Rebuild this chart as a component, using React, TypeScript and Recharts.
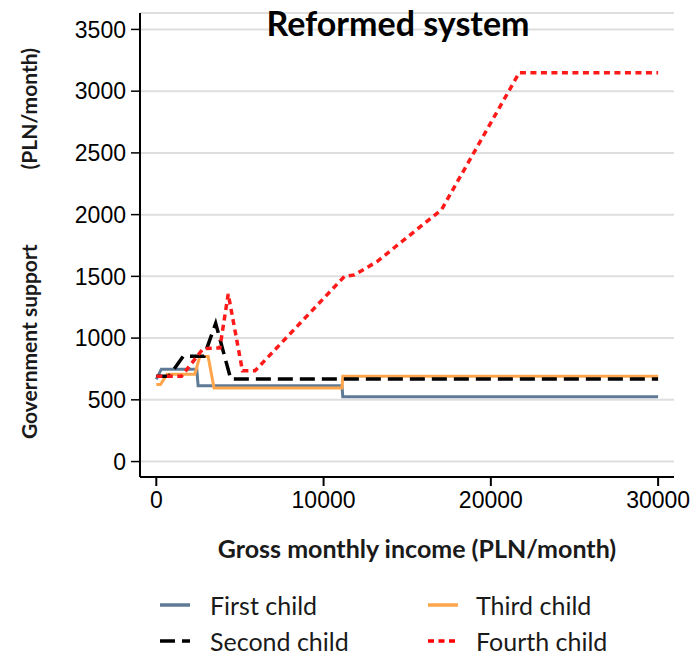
import { CartesianGrid, Legend, Line, LineChart, XAxis, YAxis } from 'recharts'

// values (income in PLN/month, support in PLN/month)
const firstChild = [
    { income: 0, support: 665 },
    { income: 300, support: 748 },
    { income: 2420, support: 748 },
    { income: 2500, support: 614 },
    { income: 11100, support: 614 },
    { income: 11150, support: 525 },
    { income: 30000, support: 525 },
]

const secondChild = [
    { income: 0, support: 690 },
    { income: 750, support: 690 },
    { income: 1600, support: 852 },
    { income: 2850, support: 852 },
    { income: 3550, support: 1120 },
    { income: 4450, support: 668 },
    { income: 30000, support: 668 },
]

const thirdChild = [
    { income: 0, support: 625 },
    { income: 250, support: 625 },
    { income: 650, support: 708 },
    { income: 2300, support: 708 },
    { income: 2600, support: 850 },
    { income: 3100, support: 850 },
    { income: 3450, support: 596 },
    { income: 11100, support: 596 },
    { income: 11150, support: 690 },
    { income: 30000, support: 690 },
]

const fourthChild = [
    { income: 0, support: 690 },
    { income: 1500, support: 690 },
    { income: 2800, support: 915 },
    { income: 3800, support: 920 },
    { income: 4300, support: 1358 },
    { income: 5150, support: 735 },
    { income: 5900, support: 735 },
    { income: 11250, support: 1500 },
    { income: 11850, support: 1512 },
    { income: 13200, support: 1620 },
    { income: 17050, support: 2040 },
    { income: 21700, support: 3150 },
    { income: 30000, support: 3150 },
]

const xTicks = [0, 10000, 20000, 30000]
const yTicks = [0, 500, 1000, 1500, 2000, 2500, 3000, 3500]

const legendItems = [
    { name: 'First child', color: '#5f7a96', dash: undefined as string | undefined },
    { name: 'Third child', color: '#ffa64d', dash: undefined as string | undefined },
    { name: 'Second child', color: '#000000', dash: '15 7' },
    { name: 'Fourth child', color: '#ff0000', dash: '6 4.5' },
]

const tickStyle = { fontFamily: '"Liberation Sans", Arial, sans-serif', fontSize: 23, fill: '#000' }
const labelFont = { fontFamily: 'Lato, sans-serif', fontWeight: 700, fill: '#1a1a1a' }

const renderLegend = () => (
    <div style={{ position: 'relative', width: 695, height: 76, fontFamily: 'Lato, sans-serif', fontSize: 25, color: '#1a1a1a' }}>
        {legendItems.map((item, i) => {
            const col = i % 2
            const row = Math.floor(i / 2)
            return (
                <div key={item.name} style={{ position: 'absolute', left: col === 0 ? 160 : 428, top: row * 36, height: 30, display: 'flex', alignItems: 'center' }}>
                    <svg width={30} height={10} style={{ marginRight: col === 0 ? 20 : 18 }}>
                        <line x1={0} y1={5} x2={30} y2={5} stroke={item.color} strokeWidth={3.5} strokeDasharray={item.dash} />
                    </svg>
                    <span>{item.name}</span>
                </div>
            )
        })}
    </div>
)

const YLabel = (props: any) => {
    const { viewBox } = props
    const cx = viewBox.x + 37
    return (
        <g style={{ ...labelFont, fontSize: 21 }}>
            <text transform={`translate(${cx} 439) rotate(-90)`} textAnchor="start">Government support</text>
            <text transform={`translate(${cx} 48) rotate(-90)`} textAnchor="end">(PLN/month)</text>
        </g>
    )
}

const XLabel = (props: any) => {
    const { viewBox } = props
    return (
        <text x={viewBox.x + viewBox.width / 2 + 10} y={558} textAnchor="middle" style={{ ...labelFont, fontSize: 25 }}>
            Gross monthly income (PLN/month)
        </text>
    )
}

const App = () => {
    return (
        <div style={{ position: 'absolute', left: 0, top: 0, width: 695, height: 656, background: '#fff' }}>
            <LineChart
                width={695}
                height={656}
                margin={{ top: 13, right: 21, bottom: 119, left: 0 }}
            >
                <CartesianGrid vertical={false} stroke="#dedede" strokeWidth={2} />
                <XAxis
                    dataKey="income"
                    type="number"
                    domain={[-975, 30950]}
                    ticks={xTicks}
                    allowDataOverflow
                    height={60}
                    tick={tickStyle}
                    tickSize={9}
                    tickMargin={6}
                    axisLine={{ stroke: '#000', strokeWidth: 2 }}
                    tickLine={{ stroke: '#000', strokeWidth: 2 }}
                    label={<XLabel />}
                />
                <YAxis
                    type="number"
                    domain={[-125, 3633]}
                    ticks={yTicks}
                    allowDataOverflow
                    width={140}
                    tick={tickStyle}
                    tickSize={9}
                    tickMargin={5}
                    axisLine={{ stroke: '#000', strokeWidth: 2 }}
                    tickLine={{ stroke: '#000', strokeWidth: 1.5 }}
                    label={<YLabel />}
                />
                <Legend
                    layout="horizontal"
                    verticalAlign="middle"
                    align="center"
                    content={renderLegend}
                    wrapperStyle={{ position: 'absolute', left: 0, top: 590, width: 695, height: 76 }}
                />
                <Line data={firstChild} dataKey="support" name="First child" type="linear" stroke="#5f7a96" strokeWidth={3} dot={false} isAnimationActive={false} />
                <Line data={thirdChild} dataKey="support" name="Third child" type="linear" stroke="#ffa64d" strokeWidth={3} dot={false} isAnimationActive={false} />
                <Line data={secondChild} dataKey="support" name="Second child" type="linear" stroke="#000" strokeWidth={3.5} strokeDasharray="15 7" dot={false} isAnimationActive={false} />
                <Line data={fourthChild} dataKey="support" name="Fourth child" type="linear" stroke="#ff1a1a" strokeWidth={3.5} strokeDasharray="6 4.5" dot={false} isAnimationActive={false} />
            </LineChart>
            <div style={{ position: 'absolute', left: 0, top: 0, width: 796, textAlign: 'center', fontFamily: 'Lato, sans-serif', fontWeight: 700, fontSize: 34, lineHeight: '46px', color: '#000' }}>
                Reformed system
            </div>
        </div>
    )
}

export default App
